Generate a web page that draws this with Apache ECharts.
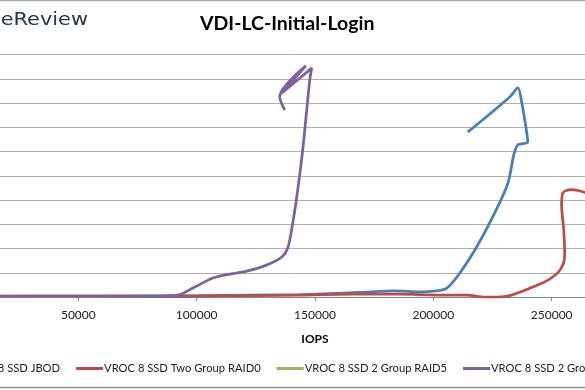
<!DOCTYPE html>
<html>
<head>
<meta charset="utf-8">
<script src="https://cdn.jsdelivr.net/npm/echarts@6/dist/echarts.min.js"></script>
<style>
html,body{margin:0;padding:0;background:#fff;}
#chart{width:585px;height:390px;}
</style>
</head>
<body>
<div id="chart"></div>
<script>
// Series names
const seriesNames = ['VROC 8 SSD JBOD', 'VROC 8 SSD Two Group RAID0', 'VROC 8 SSD 2 Group RAID5', 'VROC 8 SSD 2 Group RAID10'];
// x = IOPS, y = average latency (ms)
const jbodIOPS = [2100, 59100, 101400, 143600, 168900, 183700, 194300, 201000, 205700, 211200, 218300, 225100, 231400, 234000, 235700, 239900, 239100, 237400, 235700, 232300, 214500];
const jbodLat  = [0.02, 0.04, 0.06, 0.10, 0.19, 0.25, 0.21, 0.25, 0.37, 0.99, 2.06, 3.30, 4.66, 5.86, 6.27, 6.39, 7.01, 8.00, 8.62, 8.25, 6.80];
const raid0IOPS = [2100, 59100, 101400, 143600, 165500, 185800, 202700, 214100, 221700, 227200, 233100, 242000, 249100, 253800, 255500, 255100, 254200, 254700, 258400, 263500, 270300];
const raid0Lat  = [0.02, 0.02, 0.04, 0.08, 0.12, 0.12, 0.08, 0.08, 0.0, 0.0, 0.08, 0.41, 0.74, 1.15, 1.73, 2.76, 3.79, 4.29, 4.43, 4.33, 4.08];
const raid5IOPS = [2100, 33800, 59100, 80200];
const raid5Lat  = [0.03, 0.04, 0.04, 0.04];
const raid10IOPS = [2100, 33800, 59100, 80200, 92100, 98400, 106800, 111900, 121200, 129600, 136000, 138500, 140600, 142700, 144800, 146500, 147800, 148600, 136000, 146100, 135100, 137200];
const raid10Lat  = [0.02, 0.04, 0.04, 0.04, 0.08, 0.37, 0.78, 0.91, 1.07, 1.32, 1.65, 2.02, 3.05, 4.41, 6.06, 7.71, 8.95, 9.44, 8.41, 9.53, 8.25, 7.71];
const colors = ['#4A7EBB', '#BE4B48', '#98B954', '#7D60A0'];

const pair = (xs, ys) => xs.map((x, i) => [x, ys[i]]);
const dataSets = [pair(jbodIOPS, jbodLat), pair(raid0IOPS, raid0Lat), pair(raid5IOPS, raid5Lat), pair(raid10IOPS, raid10Lat)];

const chart = echarts.init(document.getElementById('chart'), null, {renderer: 'canvas'});
chart.setOption({
  animation: false,
  backgroundColor: '#fff',
  color: colors,
  title: {
    text: 'VDI-LC-Initial-Login',
    left: 200, top: 14, padding: 0,
    textStyle: {fontFamily: 'Lato', fontWeight: 'bold', fontSize: 19.5, color: '#000'}
  },
  graphic: [
    {type: 'text', x: 88, y: 11, scaleX: 1.16, style: {text: 'StorageReview', textAlign: 'right', font: '18px "DejaVu Sans"', fill: '#253746'}},
    {type: 'line', shape: {x1: 0, y1: 0.5, x2: 585, y2: 0.5}, style: {stroke: '#a6a6a6', lineWidth: 1.5}},
    {type: 'line', shape: {x1: 0, y1: 387.5, x2: 585, y2: 387.5}, style: {stroke: '#8c8c8c', lineWidth: 1.5}}
  ],
  legend: {
    left: -64, top: 363, padding: 0, width: 1400,
    itemWidth: 27, itemHeight: 3, itemGap: 16,
    icon: 'rect',
    textStyle: {fontFamily: 'Lato', fontSize: 11.2, color: '#222', padding: [0, 0, 0, -4]},
    data: seriesNames
  },
  grid: {left: -40, right: -85, top: 54.5, bottom: 93, outerBoundsMode: 'none', containLabel: false},
  xAxis: {
    type: 'value', min: 0, max: 300000, interval: 50000,
    name: 'IOPS', nameLocation: 'middle', nameGap: 36,
    nameTextStyle: {fontFamily: 'Lato', fontWeight: 'bold', fontSize: 12, color: '#000'},
    axisLine: {lineStyle: {color: '#888', width: 1}},
    axisTick: {show: true, length: 4, lineStyle: {color: '#888'}},
    axisLabel: {fontFamily: 'Lato', fontSize: 12, color: '#222', margin: 12, formatter: v => String(v)},
    splitLine: {show: false}
  },
  yAxis: {
    type: 'value', min: 0, max: 10, interval: 1,
    axisLine: {show: false}, axisTick: {show: false},
    axisLabel: {show: false},
    splitLine: {lineStyle: {color: '#b0b0b0', width: 1}}
  },
  series: seriesNames.map((n, i) => ({
    name: n, type: 'line', data: dataSets[i],
    showSymbol: false, symbol: 'none', smooth: 0.3,
    lineStyle: {width: 2.75, color: colors[i]},
    z: 2 + i
  }))
});
</script>
</body>
</html>
